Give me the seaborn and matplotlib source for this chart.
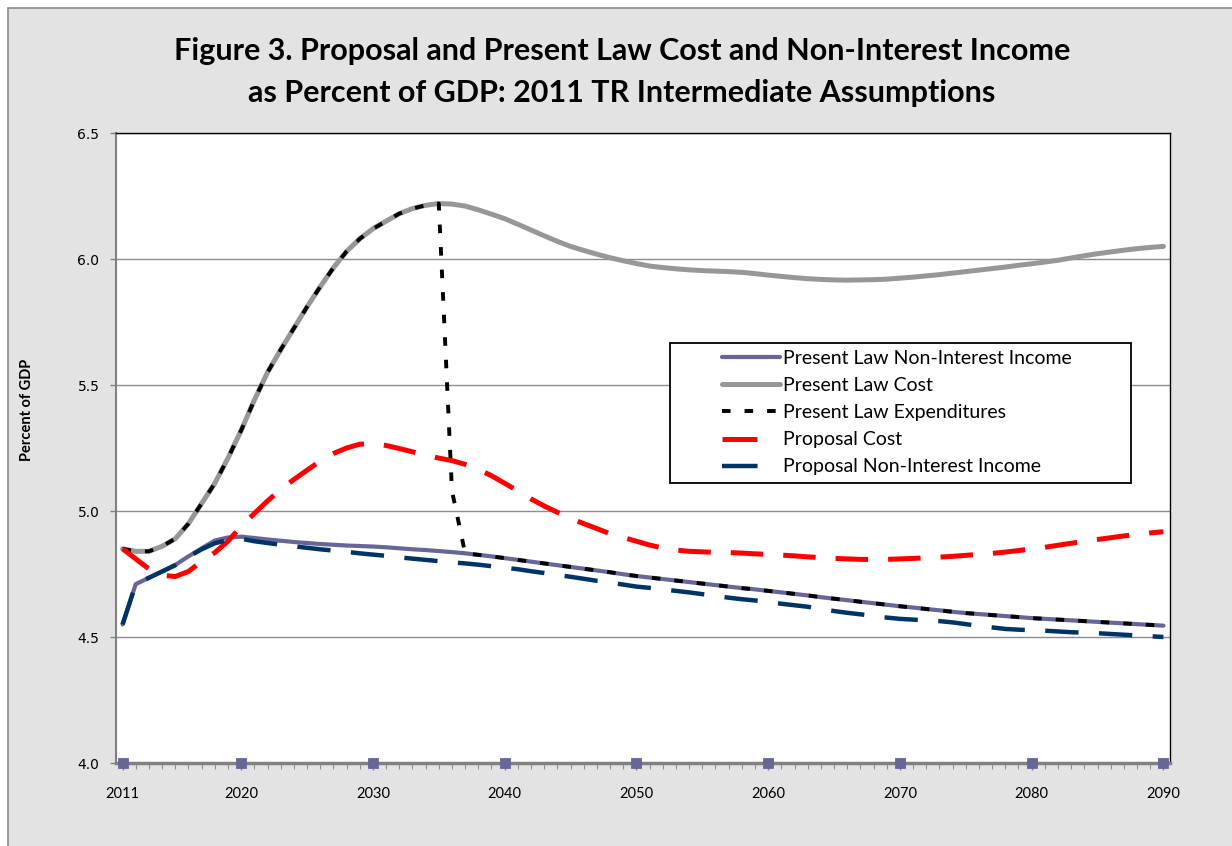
import matplotlib.pyplot as plt
import seaborn as sns
from matplotlib.lines import Line2D
from matplotlib.patches import Rectangle

years = list(range(2011, 2091))

# Present Law Non-Interest Income
pl_income = [4.55, 4.71, 4.735, 4.76, 4.786, 4.82, 4.852, 4.883, 4.895, 4.898,
             4.893, 4.887, 4.882, 4.877, 4.873, 4.869, 4.866, 4.863, 4.861, 4.859,
             4.856, 4.852, 4.848, 4.845, 4.841, 4.837, 4.832, 4.826, 4.82, 4.813,
             4.806, 4.799, 4.792, 4.785, 4.778, 4.771, 4.764, 4.757, 4.749, 4.742,
             4.736, 4.730, 4.724, 4.718, 4.712, 4.706, 4.700, 4.694, 4.689, 4.683,
             4.677, 4.671, 4.665, 4.658, 4.652, 4.646, 4.640, 4.634, 4.628, 4.622,
             4.617, 4.611, 4.606, 4.600, 4.595, 4.591, 4.587, 4.583, 4.579, 4.575,
             4.572, 4.569, 4.566, 4.563, 4.560, 4.557, 4.554, 4.551, 4.548, 4.545]

# Present Law Cost
pl_cost = [4.85, 4.84, 4.84, 4.86, 4.89, 4.95, 5.03, 5.11, 5.21, 5.32,
           5.44, 5.55, 5.64, 5.725, 5.81, 5.89, 5.965, 6.03, 6.08, 6.12,
           6.15, 6.18, 6.20, 6.213, 6.22, 6.218, 6.21, 6.195, 6.178, 6.16,
           6.138, 6.115, 6.092, 6.07, 6.05, 6.034, 6.019, 6.005, 5.993, 5.982,
           5.972, 5.966, 5.961, 5.957, 5.954, 5.952, 5.95, 5.947, 5.942, 5.936,
           5.931, 5.926, 5.922, 5.919, 5.917, 5.916, 5.917, 5.918, 5.92, 5.924,
           5.928, 5.933, 5.938, 5.944, 5.95, 5.956, 5.962, 5.968, 5.975, 5.981,
           5.988, 5.995, 6.004, 6.013, 6.021, 6.028, 6.035, 6.041, 6.046, 6.05]

# Present Law Expenditures: cost until 2035, drop in 2036, then income
pl_expend = pl_cost[:25] + [5.08] + pl_income[26:]

# Proposal Cost
prop_cost = [4.85, 4.81, 4.77, 4.745, 4.74, 4.76, 4.80, 4.835, 4.88, 4.94,
             4.99, 5.04, 5.085, 5.125, 5.162, 5.198, 5.228, 5.25, 5.265, 5.268,
             5.26, 5.248, 5.235, 5.222, 5.21, 5.20, 5.185, 5.165, 5.14, 5.11,
             5.08, 5.048, 5.02, 4.995, 4.97, 4.95, 4.93, 4.91, 4.895, 4.88,
             4.865, 4.853, 4.845, 4.84, 4.838, 4.836, 4.835, 4.833, 4.83, 4.828,
             4.825, 4.822, 4.818, 4.815, 4.812, 4.81, 4.808, 4.808, 4.808, 4.81,
             4.812, 4.814, 4.817, 4.82, 4.824, 4.828, 4.832, 4.837, 4.843, 4.85,
             4.856, 4.864, 4.872, 4.88, 4.887, 4.894, 4.901, 4.907, 4.913, 4.918]

# Proposal Non-Interest Income
prop_income = [4.55, 4.71, 4.735, 4.76, 4.785, 4.818, 4.848, 4.872, 4.885, 4.89,
               4.88, 4.873, 4.866, 4.86, 4.854, 4.848, 4.843, 4.838, 4.832, 4.827,
               4.822, 4.816, 4.811, 4.806, 4.801, 4.796, 4.792, 4.787, 4.781, 4.775,
               4.769, 4.761, 4.754, 4.746, 4.739, 4.731, 4.723, 4.716, 4.708, 4.70,
               4.695, 4.689, 4.683, 4.677, 4.670, 4.663, 4.656, 4.650, 4.645, 4.638,
               4.632, 4.626, 4.620, 4.612, 4.603, 4.596, 4.590, 4.584, 4.577, 4.572,
               4.569, 4.566, 4.563, 4.558, 4.551, 4.544, 4.538, 4.532, 4.529, 4.527,
               4.525, 4.522, 4.519, 4.517, 4.515, 4.512, 4.509, 4.506, 4.503, 4.50]

tick_years = [2011, 2020, 2030, 2040, 2050, 2060, 2070, 2080, 2090]
marker_values = [4.0] * len(tick_years)
y_ticks = [4.0, 4.5, 5.0, 5.5, 6.0, 6.5]

labels = ['Present Law Non-Interest Income', 'Present Law Cost',
          'Present Law Expenditures', 'Proposal Cost',
          'Proposal Non-Interest Income']

PURPLE = '#666699'
GRAY = '#979797'
RED = '#ff0000'
NAVY = '#003366'

sns.set_style('white')
plt.rcParams['font.family'] = ['Lato', 'DejaVu Sans']
plt.rcParams['text.color'] = 'black'

W, H = 1232, 846
fig = plt.figure(figsize=(W / 100, H / 100), dpi=100)
fig.patch.set_facecolor('white')

# chart area background
fig.add_artist(Rectangle((8 / W, -0.02), 1.0, 1 - 8 / H + 0.02,
                         transform=fig.transFigure, facecolor='#e3e3e3',
                         edgecolor='#8a8a8a', lw=1.2, zorder=-10))

ax = fig.add_axes([116 / W, 1 - 763 / H, (1170 - 116) / W, (763 - 133) / H])
ax.set_facecolor('white')

sns.lineplot(x=years, y=pl_income, color=PURPLE, lw=3.0, ax=ax)
sns.lineplot(x=years, y=pl_cost, color=GRAY, lw=3.6, ax=ax)
sns.lineplot(x=years, y=pl_expend, color='black', lw=2.8,
             linestyle=(0, (2.2, 3.6)), ax=ax)
sns.lineplot(x=years, y=prop_cost, color=RED, lw=3.6,
             linestyle=(0, (6.5, 4.0)), ax=ax)
sns.lineplot(x=years, y=prop_income, color=NAVY, lw=3.2,
             linestyle=(0, (7.5, 4.6)), ax=ax)
sns.scatterplot(x=tick_years, y=marker_values, marker='s', s=55,
                color=PURPLE, edgecolor=None, clip_on=False, zorder=6, ax=ax)

ax.set_xlim(2010.5, 2090.5)
ax.set_ylim(4.0, 6.5)
ax.set_xticks(tick_years)
ax.set_xticks(years, minor=True)
ax.set_xticklabels([str(y) for y in tick_years], fontsize=10.5, color='black')
ax.set_yticks(y_ticks)
ax.set_yticklabels([f'{v:.1f}' for v in y_ticks], fontsize=10,
                   family='DejaVu Sans', color='black')
ax.set_xlabel('')
ax.set_ylabel('')

ax.tick_params(axis='x', which='major', direction='out', length=5, width=1,
               color='#808080', pad=12, bottom=True)
ax.tick_params(axis='x', which='minor', direction='out', length=4, width=0.8,
               color='#909090', bottom=True)
ax.tick_params(axis='y', direction='out', length=4, width=1,
               color='#808080', pad=8, left=True)

ax.yaxis.grid(True, color='#8c8c8c', lw=1)
ax.xaxis.grid(False)
ax.set_axisbelow(True)

for side in ['top', 'right']:
    ax.spines[side].set_color('black')
    ax.spines[side].set_linewidth(1.0)
ax.spines['left'].set_color('#808080')
ax.spines['left'].set_linewidth(1.5)
ax.spines['bottom'].set_color('#808080')
ax.spines['bottom'].set_linewidth(2.5)

if ax.get_legend() is not None:
    ax.get_legend().remove()

# legend box
fig.add_artist(Rectangle((670 / W, 1 - 483 / H), (1131 - 670) / W, (483 - 343) / H,
                         transform=fig.transFigure, facecolor='white',
                         edgecolor='black', lw=1.3, zorder=3))
handles = [
    Line2D([], [], color=PURPLE, lw=3.0),
    Line2D([], [], color=GRAY, lw=3.6),
    Line2D([], [], color='black', lw=2.8, linestyle=(0, (2.2, 3.6))),
    Line2D([], [], color=RED, lw=3.6, linestyle=(0, (7.0, 10.0))),
    Line2D([], [], color=NAVY, lw=3.2, linestyle=(0, (8.0, 10.0))),
]
leg = fig.legend(handles, labels, loc='upper left',
                 bbox_to_anchor=(722 / W, 1 - 350 / H),
                 bbox_transform=fig.transFigure, frameon=False,
                 borderpad=0, borderaxespad=0, handlelength=3.0,
                 handletextpad=0.15, labelspacing=0.52, fontsize=14)
leg.set_zorder(5)

fig.text(622 / W, 1 - 51 / H,
         'Figure 3. Proposal and Present Law Cost and Non-Interest Income',
         ha='center', va='center', fontsize=22, fontweight='bold')
fig.text(622 / W, 1 - 93 / H,
         'as Percent of GDP: 2011 TR Intermediate Assumptions',
         ha='center', va='center', fontsize=22, fontweight='bold')
fig.text(27 / W, 1 - 410 / H, 'Percent of GDP', rotation=90,
         ha='center', va='center', fontsize=10.5, fontweight='bold')

fig.savefig('out.png', dpi=100)
